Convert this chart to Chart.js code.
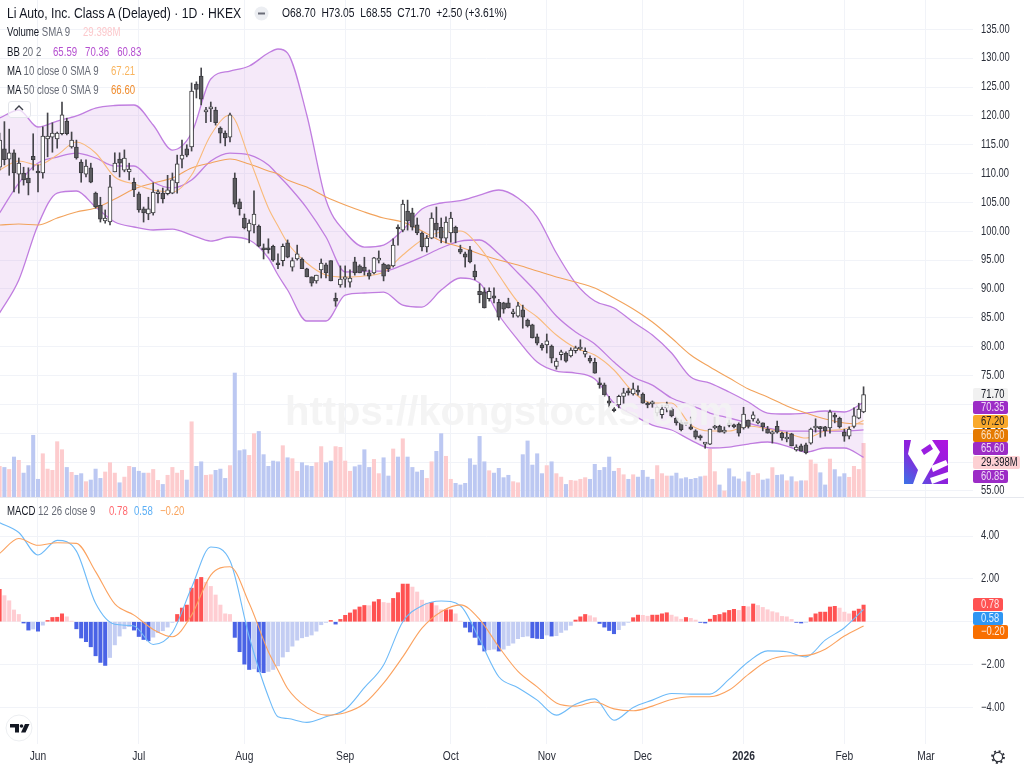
<!DOCTYPE html>
<html>
<head>
<meta charset="utf-8">
<title>Li Auto, Inc. Class A</title>
<script src="https://cdn.jsdelivr.net/npm/chart.js@4"></script>
<style>
  html, body { margin: 0; padding: 0; background: #fff; }
  #page { position: relative; width: 1024px; height: 768px; overflow: hidden; font-family: "Liberation Sans", sans-serif; color: #131722; }
  canvas { position: absolute; left: 0; }
  #priceCanvas { top: 0; }
  #macdCanvas { top: 498px; }
  #divider { position: absolute; left: 0; top: 497px; width: 1024px; height: 1px; background: #e6e8ee; }
  .legend { position: absolute; left: 7px; font-size: 12.5px; white-space: pre; line-height: 16px; transform: scaleX(0.77); transform-origin: 0 0; }
  .legend .muted { color: #666a75; }
  .tag { position: absolute; left: 973px; width: 35px; height: 13px; line-height: 13px; font-size: 12px; border-radius: 2px; }
  .tag span { display: inline-block; margin-left: 8px; transform: scaleX(0.78); transform-origin: 0 50%; }
  .watermark { position: absolute; left: 285px; top: 388px; font: bold 40px "Liberation Sans", sans-serif; color: rgba(243,243,243,0.88); white-space: pre; line-height: 46px; }
  svg { position: absolute; }
  #hideBtn { position: absolute; left: 8px; top: 101px; width: 21px; height: 15px; border: 1px solid #e3e5ea; border-radius: 3px; background: rgba(255,255,255,0.7); }
</style>
</head>
<body>
<div id="page">
  <canvas id="priceCanvas" width="1024" height="497"></canvas>
  <canvas id="macdCanvas" width="1024" height="270"></canvas>
  <div id="divider"></div>

  <div class="watermark">https://kongstocks.com</div>

  <div class="legend" style="top:5px;font-size:14px;transform:scaleX(0.87)">Li Auto, Inc. Class A (Delayed) · 1D · HKEX</div>
  <svg style="left:254px;top:6px" width="15" height="15"><circle cx="7.5" cy="7.5" r="7" fill="#eceef2"/><rect x="4" y="6.5" width="7" height="2" fill="#6a6d78"/></svg>
  <div class="legend" style="left:282px;top:5px;font-size:13px;transform:scaleX(0.79)">O68.70  H73.05  L68.55  C71.70  +2.50 (+3.61%)</div>
  <div class="legend" style="top:24px">Volume <span class="muted">SMA 9</span></div>
  <div class="legend" style="left:83px;top:24px;color:#fcc9cc">29.398M</div>
  <div class="legend" style="top:44px">BB <span class="muted">20 2</span></div>
  <div class="legend" style="left:53px;top:44px;color:#b54fd0">65.59   70.36   60.83</div>
  <div class="legend" style="top:63px">MA <span class="muted">10 close 0 SMA 9</span></div>
  <div class="legend" style="left:111px;top:63px;color:#f9b55f">67.21</div>
  <div class="legend" style="top:82px">MA <span class="muted">50 close 0 SMA 9</span></div>
  <div class="legend" style="left:111px;top:82px;color:#ef8b2c">66.60</div>
  <div id="hideBtn"></div>
  <svg style="left:13px;top:104px" width="12" height="8"><polyline points="2,6 6,2 10,6" fill="none" stroke="#3c3f48" stroke-width="1.4"/></svg>
  <div class="legend" style="top:503px">MACD <span class="muted">12 26 close 9</span></div>
  <div class="legend" style="left:109px;top:503px;color:#ff6a70">0.78</div>
  <div class="legend" style="left:134px;top:503px;color:#5aaef5">0.58</div>
  <div class="legend" style="left:160px;top:503px;color:#f9a35c">−0.20</div>

  <div class="tag" style="top:388px;background:#f1f1f1;color:#131722"><span>71.70</span></div>
  <div class="tag" style="top:401px;background:#9c2cc6;color:#efd9f6"><span>70.35</span></div>
  <div class="tag" style="top:415px;background:#f9a92b;color:#222"><span>67.20</span></div>
  <div class="tag" style="top:429px;background:#e57a00;color:#fbe3c6"><span>66.60</span></div>
  <div class="tag" style="top:442px;background:#9c2cc6;color:#efd9f6"><span>65.60</span></div>
  <div class="tag" style="top:456px;width:47px;background:#fdd0d3;color:#131722"><span>29.398M</span></div>
  <div class="tag" style="top:470px;background:#9c2cc6;color:#efd9f6"><span>60.85</span></div>
  <div class="tag" style="top:598px;width:30px;background:#ff5252;color:#ffe3e3"><span>0.78</span></div>
  <div class="tag" style="top:612px;width:30px;background:#2f96f3;color:#e3f2ff"><span>0.58</span></div>
  <div class="tag" style="top:625px;height:14px;background:#f86f00;color:#ffeadb"><span>−0.20</span></div>

  <svg style="left:904px;top:440px" width="44" height="44" viewBox="0 0 44 44">
    <defs><linearGradient id="lg" x1="0" y1="1" x2="1" y2="0"><stop offset="0" stop-color="#3a74e6"/><stop offset="0.45" stop-color="#8a22dc"/><stop offset="1" stop-color="#b014e0"/></linearGradient></defs>
    <rect width="44" height="44" fill="url(#lg)"/>
    <polygon points="7,0 28,0 36,12 18,44 9,44 14,30 4,14" fill="#fff"/>
    <polygon points="17,10 26,4 29,9 20,15" fill="#9a1ee0"/>
    <polygon points="27,26 42,20 44,25 29,32" fill="#fff"/>
    <polygon points="26,38 44,32 44,38 28,44" fill="#fff"/>
  </svg>

  <svg style="left:5px;top:714px" width="28" height="28" viewBox="0 0 28 28">
    <circle cx="14" cy="14" r="13" fill="#fff" stroke="#eceef1"/>
    <path d="M5 10h9v8.5h-4V13.5H5z" fill="#131722"/><circle cx="16.5" cy="12" r="1.8" fill="#131722"/><path d="M20 10h4.5l-4 8.5h-4.5z" fill="#131722"/>
  </svg>
  <svg style="left:990px;top:749px" width="16" height="16" viewBox="0 0 16 16">
    <circle cx="8" cy="8" r="4.6" fill="none" stroke="#2c2f38" stroke-width="1.2"/>
    <circle cx="8" cy="8" r="6" fill="none" stroke="#2c2f38" stroke-width="1.8" stroke-dasharray="2 2.7"/>
  </svg>
</div>

<script>
// months on the time axis, as bar numbers (Mar is past the last bar)
const monthLabels = ['Jun', 'Jul', 'Aug', 'Sep', 'Oct', 'Nov', 'Dec', '2026', 'Feb', 'Mar'];
const monthBars = [8, 29, 51, 72, 94, 114, 134, 155, 176, 193];

const priceTicks = [135, 130, 125, 120, 115, 110, 105, 100, 95, 90, 85, 80, 75, 70, 65, 60, 55];
const macdTicks = [4, 2, 0, -2, -4];

const opens = [111.1,114.3,112.5,113.6,109.9,110.1,109.2,113.0,110.4,110.1,
  116.0,116.3,116.0,116.9,119.1,114.6,114.6,112.0,109.9,111.0,
  106.6,104.5,101.8,101.6,110.3,112.5,110.6,110.3,108.5,106.5,
  103.9,103.0,103.2,106.5,106.6,106.5,106.6,108.4,112.5,114.3,
  114.6,125.5,126.9,120.7,121.2,121.0,117.9,117.0,116.3,109.2,
  105.1,102.3,100.0,101.1,100.9,96.9,96.9,97.4,94.5,94.9,
  98.0,93.8,95.2,95.2,93.5,92.1,91.4,93.3,94.2,94.9,
  88.4,90.7,91.7,91.2,94.7,94.0,93.8,92.8,92.8,95.0,
  94.3,94.2,94.0,100.7,100.2,103.5,103.2,101.1,99.7,97.3,
  98.8,101.4,100.7,98.8,99.7,100.7,96.9,96.1,96.8,93.1,
  89.6,89.5,88.3,88.8,87.7,87.6,87.6,85.7,85.3,86.4,
  84.6,83.8,81.7,80.3,80.3,80.1,76.6,78.6,78.9,78.4,
  79.3,79.6,78.7,78.0,77.3,73.7,73.4,70.6,69.2,69.9,
  71.4,72.1,71.8,72.5,71.8,70.1,70.1,68.5,68.2,69.4,
  69.2,67.6,66.9,66.8,66.1,65.4,64.3,63.1,63.1,65.9,
  66.2,65.2,66.8,66.2,66.6,65.9,67.3,67.5,66.8,66.8,
  65.7,64.9,66.2,65.0,64.0,64.9,62.1,62.8,63.0,63.3,
  65.9,65.9,66.1,65.9,68.0,67.6,65.2,64.5,66.2,67.6,68.7];

const closes = [115.8,112.4,113.6,110.1,111.8,108.9,108.4,112.4,110.1,116.5,
  116.5,117.0,117.0,120.2,116.9,115.8,112.7,110.1,111.3,108.5,
  104.2,102.1,102.3,107.7,111.8,111.8,112.7,110.8,107.2,103.7,
  103.2,103.9,106.8,106.6,105.6,107.2,108.9,111.7,113.2,113.2,
  124.3,124.6,122.9,120.8,121.5,118.8,117.0,116.2,120.2,104.7,
  103.9,100.6,101.4,103.0,97.4,96.8,96.8,95.0,94.2,97.4,
  95.5,94.9,96.1,93.5,92.1,91.0,92.4,94.5,92.8,91.4,
  87.9,91.7,92.1,91.9,92.8,92.8,93.1,92.2,95.4,95.2,
  92.2,93.5,97.6,100.4,104.7,101.8,100.7,99.7,97.3,98.8,
  102.3,100.2,98.8,101.6,102.3,99.7,96.4,95.5,94.7,92.1,
  89.0,86.7,89.6,88.4,85.1,86.5,86.7,86.0,87.1,85.1,
  83.6,81.5,80.6,79.8,81.0,78.0,77.5,79.1,77.5,79.4,
  79.8,79.8,79.2,77.5,75.4,73.4,71.6,70.2,68.9,71.4,
  72.0,72.0,72.7,72.1,70.2,69.9,70.2,69.5,69.2,69.9,
  68.0,66.8,65.6,66.6,65.7,64.3,64.2,63.3,65.7,66.1,
  65.2,65.4,66.4,66.1,65.0,68.3,66.2,68.2,66.9,66.1,
  65.0,65.2,65.2,64.2,64.3,62.8,62.6,61.9,61.6,65.7,
  66.1,65.8,65.4,68.7,67.8,66.1,64.5,65.7,68.0,69.2,71.7];

const highs = [117.0,119.0,117.7,114.1,112.7,111.1,111.0,116.9,111.5,118.1,
  120.5,118.8,117.2,122.4,119.6,117.2,115.8,112.4,112.4,111.8,
  106.8,105.9,103.7,109.7,113.6,113.6,114.1,111.8,109.2,106.8,
  104.2,105.9,108.4,107.2,107.5,109.7,110.1,113.2,115.8,115.0,
  125.7,125.9,128.3,121.5,122.4,121.5,118.1,117.4,120.5,110.1,
  105.6,103.0,102.0,107.0,101.1,97.8,98.7,97.6,96.1,97.8,
  98.5,95.4,97.6,95.4,93.6,92.1,92.4,95.2,94.5,94.9,
  89.3,94.0,94.0,93.3,95.5,94.2,95.5,93.3,95.5,96.6,
  94.5,94.2,98.7,101.1,105.4,105.4,104.0,102.3,99.9,99.3,
  103.2,104.2,102.3,102.5,103.3,100.9,97.6,96.4,97.4,94.2,
  90.9,90.2,90.2,90.2,88.2,87.7,88.4,86.5,87.7,87.2,
  84.8,83.9,82.2,80.6,82.2,80.3,78.0,79.4,79.1,79.8,
  80.1,81.2,79.8,78.4,78.0,74.6,73.7,71.4,69.5,71.6,
  72.8,72.8,73.7,73.2,72.0,70.4,70.6,69.7,69.9,70.4,
  69.4,67.8,67.3,66.9,67.8,65.6,64.7,63.3,65.7,67.8,
  66.4,66.1,67.3,66.6,66.8,69.5,67.3,68.7,67.5,66.8,
  66.2,65.4,67.1,65.2,65.2,65.0,63.0,63.1,63.3,65.9,
  67.5,66.2,66.2,69.0,68.5,67.8,65.7,66.1,69.4,70.2,73.05];

const lows = [110.6,111.5,109.7,106.8,106.6,108.0,106.3,110.6,106.8,109.2,
  112.9,113.7,114.4,116.7,116.7,114.4,112.5,108.5,109.4,108.4,
  104.0,101.6,101.4,101.1,110.3,109.4,110.3,108.9,106.0,103.3,
  101.6,102.0,102.8,104.9,104.9,106.3,106.5,106.6,111.0,112.9,
  113.9,123.1,121.9,118.8,119.0,118.4,115.3,114.8,115.5,104.2,
  102.8,100.4,98.0,99.7,97.3,95.2,96.2,94.8,93.5,94.0,
  95.4,93.1,95.0,93.5,92.1,90.5,91.0,91.9,91.9,91.4,
  87.0,90.3,90.3,90.3,92.4,92.8,92.4,91.7,92.6,94.5,
  91.4,93.0,93.8,97.6,99.9,100.2,100.2,99.4,96.6,96.4,
  98.7,99.0,98.0,98.0,98.1,98.0,96.1,93.8,94.5,91.6,
  87.6,86.7,87.9,87.6,84.6,85.8,86.7,85.1,85.1,83.2,
  83.4,81.5,80.3,79.4,78.9,77.2,76.1,77.7,77.3,78.2,
  78.9,79.4,78.2,77.2,75.4,72.8,71.4,69.5,68.7,69.4,
  70.2,71.6,71.6,71.6,70.2,69.4,69.5,68.0,67.6,68.7,
  67.8,66.4,65.4,66.4,65.6,64.0,63.8,62.4,63.0,65.7,
  65.2,65.0,66.1,65.9,64.5,65.7,65.9,67.1,66.6,65.4,
  65.0,63.3,65.0,63.8,63.5,62.8,61.9,61.9,61.4,63.1,
  65.2,64.3,64.5,65.0,66.8,65.9,63.6,64.0,65.9,67.5,68.55];

// volume in millions
const volumes = [16.8,16.2,15.1,21.9,20.1,13.1,17.2,33.8,9.7,23.7,
  15.3,14.6,30.3,25.9,16.2,13.5,11.9,12.8,8.4,9.3,
  15.3,10.2,13.7,18.8,13.1,7.8,10.9,16.8,16.2,14.1,
  13.1,13.1,15.1,9.1,6.9,11.9,16.2,13.1,14.6,9.3,
  41.2,16.8,19.3,11.9,12.2,14.6,15.3,10.2,17.2,67.9,
  25.4,25.9,22.8,34.7,35.9,23.2,16.8,19.7,19.3,28.1,
  21.5,21.0,14.1,18.8,17.2,16.8,18.8,27.6,18.8,19.7,
  27.6,27.2,19.7,14.1,16.6,17.5,25.9,16.2,20.6,12.8,
  21.5,11.5,26.3,21.9,31.9,21.9,16.2,13.7,14.6,10.2,
  19.3,25.0,34.7,22.3,9.7,7.5,6.6,7.5,21.0,17.5,
  33.2,19.3,14.4,13.1,15.7,10.6,11.9,8.4,7.8,23.2,
  30.7,17.5,23.7,12.8,17.2,19.3,12.8,10.9,6.9,9.1,
  8.8,9.7,10.6,9.7,17.9,14.6,16.2,21.9,14.1,15.7,
  12.2,9.7,12.2,10.9,14.6,10.9,9.7,17.2,12.8,11.5,
  11.5,13.1,10.0,10.6,9.7,10.2,11.1,11.5,26.1,13.9,
  6.6,3.3,15.5,11.1,9.9,8.4,13.7,11.9,12.8,9.3,
  9.9,16.1,11.9,12.2,8.9,11.1,8.4,8.9,8.9,20.3,
  18.1,13.3,6.6,20.8,15.0,11.1,12.8,10.8,16.8,15.1,29.398];

const volumeSides = ('udududdddu' + 'uuuududdud' + 'dduuuduudd' + 'duuuduuuud' + 'udduudddud' +
  'dduudddddu' + 'duuddduudd' + 'uuuudddduu' + 'ddududdddu' + 'udduuddddd' +
  'ddudddduud' + 'dddduduudu' + 'uuuddddddu' + 'ududddduuu' + 'ddddddduuu' +
  'duddduduud' + 'duddududuu' + 'udduddduuu' + 'u').split('');

const macdHist = [1.51,1.22,0.98,0.55,0.34,-0.06,-0.39,-0.34,-0.44,-0.16,
  0.06,0.20,0.21,0.37,0.23,0.03,-0.33,-0.76,-0.93,-1.17,
  -1.59,-1.90,-2.04,-1.67,-1.08,-0.67,-0.33,-0.23,-0.39,-0.69,
  -0.83,-0.89,-0.72,-0.51,-0.42,-0.25,-0.03,0.34,0.64,0.78,
  1.57,1.98,2.07,1.84,1.65,1.25,0.78,0.37,0.34,-0.73,
  -1.40,-1.98,-2.23,-2.20,-2.34,-2.38,-2.32,-2.23,-2.06,-1.65,
  -1.40,-1.14,-0.86,-0.75,-0.69,-0.62,-0.44,-0.14,-0.03,0.06,
  -0.11,0.11,0.30,0.41,0.56,0.69,0.76,0.75,0.93,1.04,
  0.90,0.87,1.09,1.36,1.76,1.76,1.62,1.39,1.01,0.87,
  0.90,0.75,0.56,0.56,0.56,0.37,0.03,-0.26,-0.48,-0.73,
  -1.08,-1.37,-1.31,-1.28,-1.37,-1.28,-1.11,-1.00,-0.79,-0.70,
  -0.67,-0.75,-0.78,-0.79,-0.62,-0.67,-0.65,-0.50,-0.39,-0.17,
  0.08,0.23,0.34,0.28,0.19,-0.08,-0.25,-0.41,-0.56,-0.37,
  -0.17,-0.03,0.19,0.31,0.30,0.26,0.31,0.31,0.37,0.42,
  0.31,0.23,0.12,0.20,0.16,0.08,-0.03,-0.06,0.12,0.30,
  0.34,0.42,0.53,0.58,0.53,0.72,0.70,0.83,0.76,0.67,
  0.56,0.47,0.42,0.25,0.23,0.11,-0.03,-0.06,-0.02,0.19,
  0.37,0.45,0.45,0.69,0.72,0.64,0.45,0.37,0.50,0.59,0.78];

// lines below were read about every 4th bar, bar 58 added for the band peak
const lineBars = [0,4,8,12,16,20,24,28,32,36,40,44,48,52,56,58,60,64,68,72,76,80,84,88,92,96,100,
  104,108,112,116,120,124,128,132,136,140,144,148,152,156,160,164,168,172,176,180];

const bbUpper = [119.63,121.02,118.07,119.11,119.98,121.36,121.80,121.88,118.42,114.08,117.03,126.39,127.77,128.64,130.89,131.59,130.89,
  120.15,105.42,99.87,97.27,97.62,100.22,103.86,104.90,105.30,106.28,107.15,105.77,102.47,96.23,91.03,87.91,
  86.70,84.27,82.02,78.90,74.74,73.70,72.14,70.41,68.50,68.33,68.50,68.85,68.68,70.36];
const bbBasis = [103.17,108.36,111.83,112.87,113.56,112.70,111.31,111.31,108.54,107.50,108.88,112.18,113.56,113.22,111.48,109.75,108.02,
  104.03,99.01,92.94,93.11,93.11,94.15,95.54,97.10,98.31,98.49,96.06,92.77,89.30,85.31,82.54,80.46,
  77.34,74.74,73.35,71.10,69.89,68.50,67.64,66.77,65.90,65.38,65.38,65.38,65.38,65.59];
const bbLower = [85.83,91.55,101.09,106.63,106.98,104.20,101.60,100.74,100.22,100.39,99.35,98.31,99.01,98.49,95.37,92.42,89.82,
  84.45,84.45,88.95,89.30,89.47,87.22,86.87,89.82,91.90,91.03,85.49,81.15,77.34,75.78,75.43,74.40,
  70.24,68.16,66.42,65.56,63.82,62.44,62.61,63.13,63.48,62.78,61.74,62.44,62.44,60.83];
const ma10 = [110.62,112.18,111.48,113.22,115.47,113.56,109.40,108.19,107.15,106.80,109.75,116.68,120.15,112.70,104.03,100.90,97.97,
  94.50,92.42,92.07,92.25,92.94,95.89,98.49,99.87,100.05,97.27,92.42,87.74,85.14,82.02,79.77,78.55,
  75.96,72.14,70.24,70.24,66.42,65.38,65.38,66.25,65.73,65.04,64.17,65.38,65.73,67.21];
const ma50 = [101.09,101.26,101.09,102.30,103.34,104.03,105.59,107.32,108.36,109.23,110.96,111.83,112.52,111.66,110.44,109.92,108.88,
  107.67,105.94,104.55,103.34,102.30,101.61,100.05,98.31,97.27,96.06,95.02,94.15,93.11,92.07,91.21,90.17,
  88.43,86.53,84.27,81.50,78.55,76.47,74.57,72.66,71.28,69.72,68.50,67.46,66.77,66.60];
const macdLine = [4.63,4.17,3.12,3.80,3.30,0.86,-0.12,-0.20,-1.06,-0.50,1.60,3.49,2.85,-0.70,-3.50,-4.44,-4.52,
  -4.70,-4.44,-4.10,-3.08,-2.02,0,0.75,0.97,0.75,-0.83,-2.57,-3.08,-3.66,-4.36,-3.85,-3.60,
  -4.60,-4.00,-3.66,-3.35,-3.38,-3.38,-2.68,-1.87,-1.36,-1.40,-1.64,-0.86,-0.28,0.58];
const signalLine = [3.19,3.89,3.57,3.69,3.66,2.34,0.83,0.31,-0.36,-0.70,0.31,2.18,2.57,0.86,-1.40,-2.26,-3.12,
  -4.00,-4.36,-4.25,-3.82,-2.87,-1.64,-0.30,0.47,0.79,0.11,-1.17,-2.32,-3.04,-3.79,-3.94,-3.75,
  -4.07,-4.16,-3.94,-3.63,-3.50,-3.50,-3.19,-2.46,-1.82,-1.60,-1.57,-1.28,-0.67,-0.20];

const bars = opens.map((v, i) => i);
const gridColor = '#f1f3f8';

function linePoints(values) {
  return values.map((v, i) => ({ x: lineBars[i], y: v }));
}

function lineDataset(values, color, axisId, order, extra) {
  return Object.assign({
    type: 'line',
    data: linePoints(values),
    yAxisID: axisId,
    borderColor: color,
    borderWidth: 1.1,
    pointRadius: 0,
    cubicInterpolationMode: 'monotone',
    fill: false,
    order: order
  }, extra || {});
}

function barDataset(points, colors, thickness, axisId, order, extra) {
  return Object.assign({
    type: 'bar',
    data: points,
    yAxisID: axisId,
    backgroundColor: colors,
    barThickness: thickness,
    stack: 'all',
    borderSkipped: false,
    order: order
  }, extra || {});
}

// same left-to-right mapping in both panes
function timeAxis(labelHeight) {
  return {
    type: 'linear',
    min: 0.083,
    max: 202.8,
    offset: false,
    stacked: true,
    afterBuildTicks: scale => { scale.ticks = monthBars.map(v => ({ value: v })); },
    afterFit: scale => { scale.height = labelHeight; },
    border: { display: false },
    grid: { color: gridColor, drawTicks: false, offset: false },
    ticks: { display: false }
  };
}

function valueAxis(min, max, tickValues) {
  return {
    position: 'right',
    min: min,
    max: max,
    stacked: false,
    afterBuildTicks: scale => { scale.ticks = tickValues.map(v => ({ value: v })); },
    afterFit: scale => { scale.width = 51; },
    border: { display: false },
    grid: { color: gridColor, drawTicks: false },
    ticks: { display: false }
  };
}

// axis text here is condensed, so the tick labels are squeezed by hand
const narrowTickLabels = {
  id: 'narrowTickLabels',
  afterDraw(chart) {
    const ctx = chart.ctx;
    const yScale = chart.scales.y;
    const xScale = chart.scales.x;
    ctx.save();
    ctx.fillStyle = '#2a2e39';
    ctx.textBaseline = 'middle';
    ctx.font = '12px "Liberation Sans", sans-serif';
    ctx.textAlign = 'left';
    yScale.ticks.forEach(tick => {
      ctx.save();
      ctx.translate(981, yScale.getPixelForValue(tick.value));
      ctx.scale(0.78, 1);
      ctx.fillText(tick.value.toFixed(2).replace('-', '−'), 0, 0);
      ctx.restore();
    });
    if (xScale.height > 0) {
      ctx.textAlign = 'center';
      xScale.ticks.forEach(tick => {
        const label = monthLabels[monthBars.indexOf(tick.value)];
        ctx.font = (label === '2026' ? 'bold ' : '') + '12.5px "Liberation Sans", sans-serif';
        ctx.save();
        ctx.translate(xScale.getPixelForValue(tick.value), chart.height - 11);
        ctx.scale(0.82, 1);
        ctx.fillText(label, 0, 0);
        ctx.restore();
      });
    }
    ctx.restore();
  }
};

function histColor(i) {
  const v = macdHist[i];
  const prev = i > 0 ? macdHist[i - 1] : v;
  if (v >= 0) return v >= prev ? '#ff5252' : '#ffcdd2';
  return v < prev ? '#4a63e6' : '#c3cdf3';
}

const chartOptions = scales => ({
  responsive: false,
  animation: false,
  events: [],
  layout: { padding: 0 },
  plugins: { legend: { display: false }, tooltip: { enabled: false } },
  scales: scales
});

new Chart(document.getElementById('priceCanvas'), {
  type: 'bar',
  plugins: [narrowTickLabels],
  data: {
    datasets: [
      lineDataset(bbUpper, '#c07ee0', 'y', 6, { borderWidth: 1.3, fill: '+2', backgroundColor: 'rgba(190,120,220,0.16)' }),
      lineDataset(bbBasis, '#c07ee0', 'y', 5, { borderWidth: 1.3 }),
      lineDataset(bbLower, '#c07ee0', 'y', 6, { borderWidth: 1.3 }),
      lineDataset(ma10, '#f9bb7c', 'y', 4),
      lineDataset(ma50, '#f2a35c', 'y', 4),
      barDataset(bars.map(i => ({ x: i, y: volumes[i] })),
        bars.map(i => (volumeSides[i] === 'u' ? '#fdccce' : '#bcc8f2')), 3.4, 'yVol', 7),
      barDataset(bars.map(i => ({ x: i, y: [lows[i], highs[i]] })), '#45454a', 1, 'y', 2),
      barDataset(bars.map(i => ({ x: i, y: [opens[i], closes[i]] })),
        bars.map(i => (closes[i] >= opens[i] ? '#ffffff' : '#5c5c60')), 4, 'y', 1,
        { borderColor: '#3a3a3e', borderWidth: 1, minBarLength: 2 })
    ]
  },
  options: chartOptions({
    x: timeAxis(0),
    y: valueAxis(53.95, 140.08, priceTicks),
    yVol: { display: false, min: 0, max: 272.2, stacked: false }
  })
});

new Chart(document.getElementById('macdCanvas'), {
  type: 'bar',
  plugins: [narrowTickLabels],
  data: {
    datasets: [
      barDataset(bars.map(i => ({ x: i, y: macdHist[i] })), bars.map(histColor), 3.4, 'y', 3),
      lineDataset(macdLine, '#6dbaf8', 'y', 2),
      lineDataset(signalLine, '#fba25f', 'y', 1)
    ]
  },
  options: chartOptions({
    x: timeAxis(24),
    y: valueAxis(-5.71, 5.78, macdTicks)
  })
});
</script>
</body>
</html>
